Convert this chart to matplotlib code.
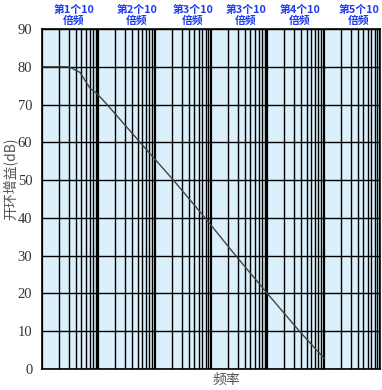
import numpy as np
import matplotlib.pyplot as plt
from matplotlib.ticker import LogLocator, NullFormatter, MultipleLocator

plt.rcParams['font.family'] = ['Noto Sans CJK SC', 'DejaVu Sans']

# open loop gain (freq in relative units, gain in dB)
freq = [1, 2.88, 3.39, 4.73, 7.13, 9.33, 14.3, 55, 215, 785, 2750, 10000, 37150, 102300]
gain = [80, 80, 79.6, 78.5, 74.3, 73.0, 70, 60, 50, 40, 30, 20, 10, 2.8]

decade_labels = ['第1个10\n倍频', '第2个10\n倍频', '第3个10\n倍频',
                 '第3个10\n倍频', '第4个10\n倍频', '第5个10\n倍频']
label_x = [74, 137, 193, 246, 300, 359]

W, H = 382, 390
fig = plt.figure(figsize=(W / 100, H / 100), dpi=100)
ax = fig.add_axes([42 / W, 1 - 369 / H, (380 - 42) / W, (369 - 29) / H])
ax.set_facecolor('#dcf0fb')

ax.set_xscale('log')
ax.set_xlim(1, 1e6)
ax.set_ylim(0, 90)

ax.xaxis.set_major_locator(LogLocator(base=10, numticks=10))
ax.xaxis.set_minor_locator(LogLocator(base=10, subs=np.arange(2, 10), numticks=20))
ax.xaxis.set_major_formatter(NullFormatter())
ax.xaxis.set_minor_formatter(NullFormatter())
ax.yaxis.set_major_locator(MultipleLocator(10))

ax.grid(True, which='major', axis='x', color='black', lw=1.6)
ax.grid(True, which='minor', axis='x', color='black', lw=1.0)
ax.grid(True, which='major', axis='y', color='black', lw=1.0)
ax.set_axisbelow(True)

ax.tick_params(axis='both', which='both', length=0)
ax.tick_params(axis='y', pad=7, labelsize=10.5, labelcolor='#333333')
for t in ax.get_yticklabels():
    t.set_family('Liberation Serif')

for s in ax.spines.values():
    s.set_color('black')
    s.set_linewidth(1.2)

ax.plot(freq, gain, color='#444444', lw=1.0)

ax.set_ylabel('开环增益(dB)', fontsize=10, color='#555555')
ax.yaxis.set_label_coords(-0.07, 0.56)
fig.text(226 / W, 1 - 380 / H, '频率', ha='center', va='center',
         fontsize=10, color='#555555')

for x, lab in zip(label_x, decade_labels):
    fig.text(x / W, 1 - 15 / H, lab, ha='center', va='center', fontsize=7.8,
             fontweight='bold', color='#1e3cf0', linespacing=1.05)

fig.savefig('out.png', dpi=100)
